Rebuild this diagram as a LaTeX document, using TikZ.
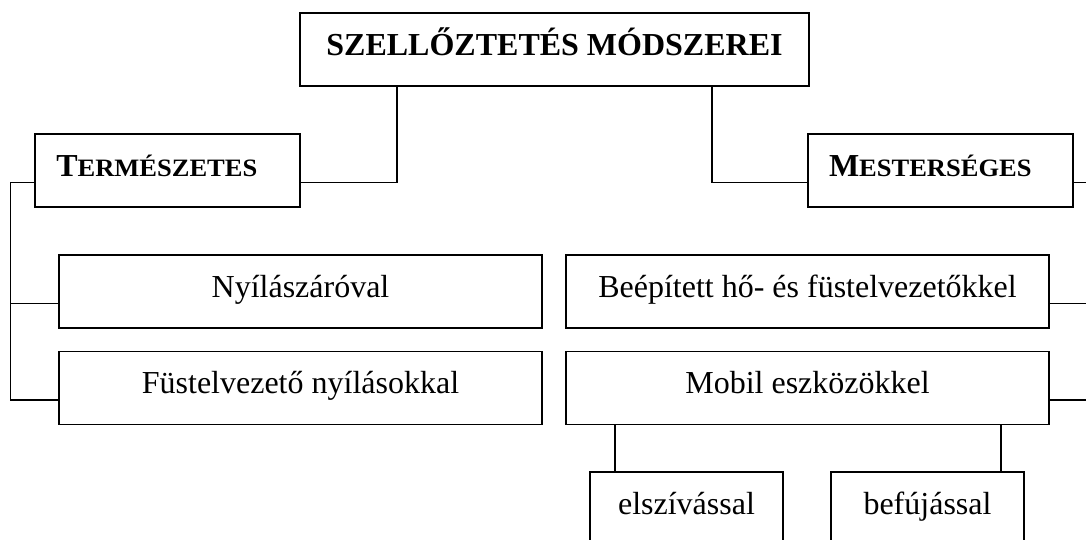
\documentclass[tikz,border=0pt]{standalone}
\usepackage{graphicx}
\usepackage{fontspec}
\setmainfont{Liberation Serif}
\newcommand\kiskap[2]{#1\scalebox{1.06}[1]{\fontsize{25}{25}\selectfont #2}}
\tikzset{
  doboz/.style={draw, line width=1.6pt, minimum height=73pt, inner sep=0pt,
    text height=22pt, text depth=11pt, font=\fontsize{32}{34}\selectfont},
  fejdoboz/.style={doboz, font=\bfseries\fontsize{32}{34}\selectfont,
    text width=223pt, align=left, inner xsep=21pt},
  vonal/.style={line width=1.5pt}
}

\begin{document}
\begin{tikzpicture}[x=1pt,y=-1pt]
    \useasboundingbox (0,0) rectangle (1086,539);
    \clip (0,0) rectangle (1086,539);
    \node[doboz, minimum width=509pt, font=\bfseries\fontsize{32}{34}\selectfont] (root) at (554.5,49.5) {SZELLŐZTETÉS MÓDSZEREI};
    \node[fejdoboz] (term) at (167.75,170.5) {\kiskap{T}{ERMÉSZETES}};
    \node[fejdoboz] (mest) at (940.5,170.5) {\kiskap{M}{ESTERSÉGES}};
    \node[doboz, minimum width=483pt] (nyil) at (300.5,291.5) {Nyílászáróval};
    \node[doboz, minimum width=483pt] (fust) at (300.5,388) {Füstelvezető nyílásokkal};
    \node[doboz, minimum width=483pt] (beep) at (807.5,291.5) {Beépített hő- és füstelvezetőkkel};
    \node[doboz, minimum width=483pt] (mobil) at (807.5,388) {Mobil eszközökkel};
    \node[doboz, minimum width=193pt] (elsz) at (686.5,508.5) {elszívással};
    \node[doboz, minimum width=193pt] (befuj) at (927.5,508.5) {befújással};
    \draw[vonal] ([xshift=-157.5pt]root.south) |- ([yshift=-12pt]term.east);
    \draw[vonal] ([xshift=157.5pt]root.south) |- ([yshift=-12pt]mest.west);
    \draw[vonal] ([yshift=-12pt]term.west) -- ++(-24,0) |- ([yshift=-12pt]fust.west);
    \draw[vonal] ([yshift=-12pt]nyil.west) -- ++(-48,0);
    \draw[vonal] ([yshift=-12pt]mest.east) -- ++(25,0) |- ([yshift=-12pt]mobil.east);
    \draw[vonal] ([yshift=-12pt]beep.east) -- ++(49,0);
    \draw[vonal] ([xshift=-192.5pt]mobil.south) -- ([xshift=-192.5pt]mobil.south |- elsz.north);
    \draw[vonal] ([xshift=193.5pt]mobil.south) -- ([xshift=193.5pt]mobil.south |- befuj.north);
\end{tikzpicture}
\end{document}
